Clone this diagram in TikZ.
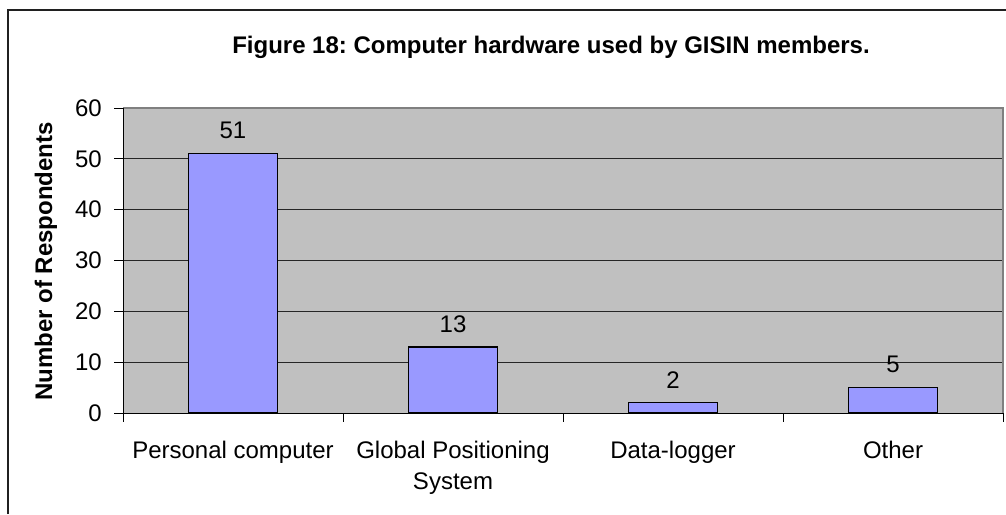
\documentclass[tikz,border=0pt]{standalone}
\usepackage{fontspec}
\setmainfont{Liberation Sans}
\frenchspacing
\definecolor{plotgray}{HTML}{C0C0C0}
\definecolor{barblue}{HTML}{9999FF}
\definecolor{framegray}{HTML}{202020}
\definecolor{bordergray}{HTML}{808080}
\begin{document}
\begin{tikzpicture}[x=1pt,y=-1pt,
  txt/.style={font=\fontsize{24}{31}\selectfont, inner sep=0pt},
  boldtxt/.style={font=\fontsize{24}{31}\selectfont\bfseries, inner sep=0pt},
  gridline/.style={draw=black!85, line width=1pt},
  barbox/.style={fill=barblue, draw=black, line width=1.2pt},
  axisline/.style={draw=black, line width=1pt}]
\useasboundingbox (0,0) rectangle (1006,514);
\fill[white] (0,0) rectangle (1006,514);

% chart frame (cut at the right and bottom edges)
\draw[framegray, line width=1.2pt] (8,514) -- (8,10) -- (1006,10);

% plot area and horizontal grid (5.0833 px per respondent)
\fill[plotgray] (123,108) rectangle (1003,413);
\foreach \v in {10,20,30,40,50}
  \draw[gridline] (123,{413-\v*5.0833}) -- (1003,{413-\v*5.0833});
\draw[bordergray, line width=1.2pt] (123,108) -- (1003,108) -- (1003,413);

% value axis with ticks and labels
\draw[axisline] (123,108) -- (123,413) -- (1003,413);
\foreach \v in {0,10,20,30,40,50,60} {
  \draw[axisline] (114,{413-\v*5.0833}) -- (123,{413-\v*5.0833});
  \node[txt, anchor=east] (yt\v) at (102,{413-\v*5.0833}) {\v};
}
% category ticks
\foreach \i in {0,1,2,3,4}
  \draw[axisline] ({123+220*\i},413) -- ({123+220*\i},422);

% bars with value labels
\foreach \i/\v in {0/51,1/13,2/2,3/5} {
  \draw[barbox] ({233+220*\i-44.5},413) rectangle ({233+220*\i+44.5},{413-\v*5.0833});
  \node[txt] (val\i) at ({233+220*\i},{413-\v*5.0833-23}) {\v};
}

% category labels
\node[txt, anchor=base] (cat0) at (233,458) {Personal computer};
\node[txt, anchor=base] (cat1a) at (453,458) {Global Positioning};
\node[txt, anchor=base] (cat1b) at (453,489) {System};
\node[txt, anchor=base] (cat2) at (673,458) {Data-logger};
\node[txt, anchor=base] (cat3) at (893,458) {Other};

% title and axis title
\node[boldtxt] (title) at (551,47) {Figure 18: Computer hardware used by GISIN members.};
\node[boldtxt, rotate=90] (ytitle) at (46,261.5) {Number of Respondents};
\end{tikzpicture}
\end{document}
